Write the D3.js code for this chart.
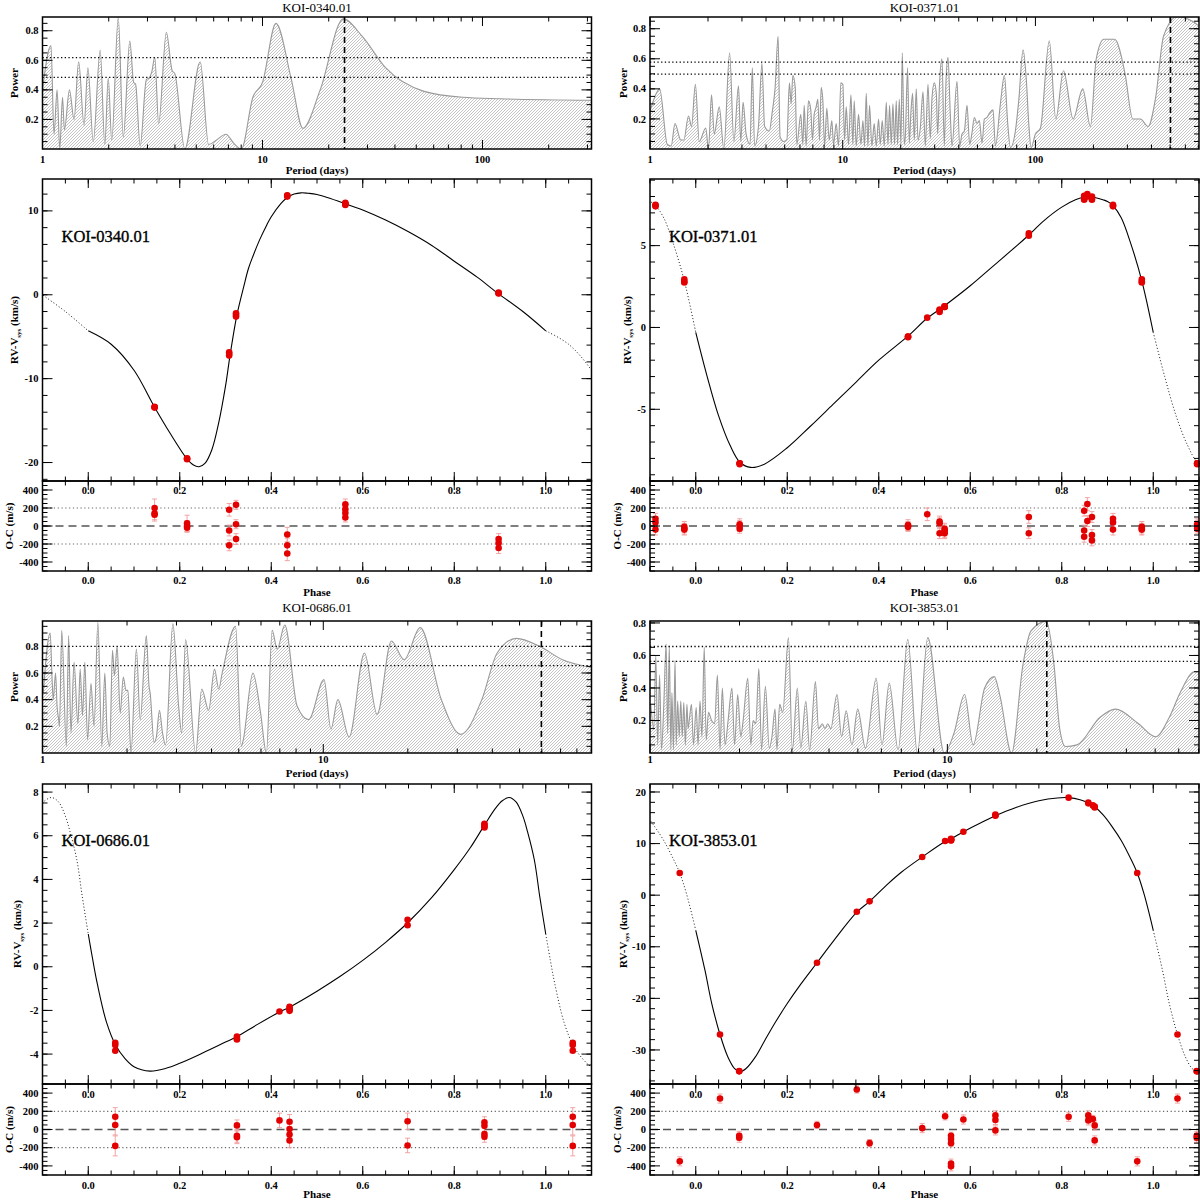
<!DOCTYPE html>
<html><head><meta charset="utf-8">
<script src="https://cdn.jsdelivr.net/npm/d3@7"></script>
<style>body{margin:0;background:#fff}svg text{font-family:"Liberation Serif","Times New Roman",serif;fill:#000}</style>
</head><body><svg id="c" width="1200" height="1200"></svg>
<script>
const koiNames=["KOI-0340.01","KOI-0371.01","KOI-0686.01","KOI-3853.01"];

// ---- periodograms: [period (days), power]
const pg0340=[[1.000,0.40],[1.093,0.70],[1.128,0.10],[1.165,0.40],[1.198,0.00],[1.233,0.35],[1.258,0.13],[1.326,0.40],[1.391,0.20],[1.460,0.59],[1.545,0.16],[1.608,0.55],[1.701,0.05],[1.829,0.67],[1.920,0.03],[1.990,0.48],[2.064,0.06],[2.210,0.89],[2.329,0.08],[2.494,0.73],[2.597,0.45],[2.649,0.44],[2.780,0.02],[2.965,0.47],[3.050,0.48],[3.137,0.52],[3.239,0.62],[3.373,0.17],[3.655,0.79],[3.884,0.53],[3.995,0.51],[4.436,0.00],[5.210,0.59],[5.691,0.03],[6.169,0.06],[6.823,0.10],[7.393,0.04],[8.013,0.00],[9.042,0.35],[10.00,0.45],[11.51,0.85],[13.53,0.47],[15.26,0.14],[18.29,0.40],[23.29,0.88],[28.48,0.76],[36.26,0.55],[54.24,0.39],[81.13,0.35],[121.3,0.34],[318.8,0.33]];
const pg0371=[[1.000,0.25],[1.047,0.33],[1.122,0.40],[1.230,0.03],[1.288,0.02],[1.348,0.17],[1.444,0.06],[1.498,0.06],[1.584,0.22],[1.643,0.15],[1.720,0.43],[1.801,0.05],[1.947,0.14],[2.011,0.00],[2.086,0.36],[2.154,0.10],[2.287,0.28],[2.417,0.00],[2.589,0.64],[2.724,0.05],[2.879,0.42],[2.958,0.05],[3.041,0.31],[3.153,0.10],[3.304,0.03],[3.396,0.54],[3.490,0.02],[3.655,0.15],[3.809,0.57],[3.934,0.15],[4.159,0.12],[4.313,0.25],[4.454,0.40],[4.621,0.75],
[4.73,0.08],[4.95,0.05],[5.13,0.06],[5.29,0.44],[5.40,0.30],[5.51,0.49],[5.67,0.41],[5.78,0.03],[6.06,0.23],[6.21,0.03],[6.31,0.29],[6.46,0.02],[6.64,0.32],[6.83,0.26],[6.97,0.06],[7.11,0.23],[7.28,0.28],[7.43,0.33],[7.58,0.06],[7.73,0.41],[7.89,0.32],[8.05,0.02],[8.27,0.27],[8.51,0.06],[8.78,0.19],[8.96,0.03],[9.25,0.17],[9.51,0.02],[9.78,0.44],[10.02,0.43],[10.22,0.06],[10.43,0.28],[10.72,0.03],[11.03,0.36],[11.29,0.03],[11.47,0.32],[11.75,0.02],[12.08,0.23],[12.43,0.03],[12.73,0.19],[12.98,0.02],[13.25,0.37],[13.51,0.02],[13.78,0.29],[14.17,0.02],[14.57,0.17],[14.93,0.02],[15.35,0.20],[15.66,0.03],[16.04,0.19],[16.43,0.02],[16.83,0.31],[17.17,0.03],[17.51,0.29],[17.86,0.03],[18.22,0.30],[18.58,0.03],[18.96,0.32],[19.26,0.03],[19.66,0.33],[20.05,0.03],[20.37,0.64],[20.86,0.03],[21.12,0.08],[21.71,0.54],[22.15,0.04],[22.60,0.25],[23.05,0.37],[23.52,0.06],[24.08,0.40],[24.58,0.06],[25.27,0.14],[26.09,0.38],[26.83,0.02],[27.70,0.43],[28.48,0.07],[29.06,0.34],[29.88,0.44],[30.60,0.37],[31.10,0.10],[31.84,0.45],[32.74,0.60],[33.67,0.02],[34.35,0.45],[35.18,0.61],[36.17,0.23],[36.90,0.02],[39.18,0.45],[40.45,0.02],[41.60,0.10],[42.78,0.12],[44.16,0.29],[45.60,0.03],[46.88,0.11],[48.21,0.21],[49.77,0.17],[51.18,0.19],[52.84,0.04],[54.34,0.20],[56.10,0.21],[57.91,0.24],[60.27,0.26],[61.97,0.02],[65.79,0.30],[69.02,0.49],[71.82,0.17],[74.15,0.01],[78.70,0.12],[81.90,0.32],[86.28,0.66],[89.80,0.45],[92.34,0.17],[94.96,0.01],[100.0,0.10],[106.2,0.14],
[118.0,0.72],[127.6,0.20],[139.9,0.52],[156.9,0.20],[176.0,0.40],[192.9,0.15],[206.8,0.60],[226.6,0.73],[257.7,0.73],[291.9,0.50],[319.9,0.20],[350.7,0.20],[384.4,0.15],[421.5,0.35],[462.0,0.75],[542.8,0.88],[652.3,0.85],[731.7,0.80]];
const pg0686=[[1.006,0.45],[1.065,0.90],[1.082,0.55],[1.092,0.40],[1.113,0.60],[1.127,0.35],[1.142,0.25],[1.149,0.20],[1.171,0.92],[1.216,0.05],[1.239,0.88],[1.263,0.15],[1.295,0.68],[1.337,0.22],[1.362,0.63],[1.388,0.28],[1.415,0.68],[1.447,0.10],[1.488,0.52],[1.526,0.20],[1.575,0.98],[1.626,0.05],[1.667,0.60],[1.699,0.15],[1.737,0.05],[1.775,0.77],[1.804,0.58],[1.844,0.80],[1.891,0.30],[1.940,0.57],[1.983,0.47],[2.015,0.47],[2.066,0.00],[2.160,0.78],[2.228,0.25],[2.343,0.88],[2.396,0.50],[2.418,0.45],[2.496,0.08],[2.544,0.12],[2.609,0.32],[2.676,0.15],[2.744,0.06],[2.913,0.97],[3.054,0.35],[3.132,0.15],[3.233,0.85],[3.510,0.00],[3.691,0.48],[3.906,0.32],[4.098,0.63],[4.243,0.48],[4.364,0.60],[4.872,0.95],[5.107,0.05],[5.189,0.10],[5.614,0.60],[5.981,0.30],[6.271,0.00],[6.574,0.92],[6.849,0.78],[7.295,0.96],[8.070,0.35],[8.870,0.25],[10.06,0.55],[10.65,0.18],[11.27,0.40],[12.36,0.12],[14.02,0.75],[15.55,0.29],[17.48,0.84],[19.40,0.70],[22.14,0.94],[26.33,0.40],[30.83,0.14],[36.68,0.40],[41.62,0.75],[48.72,0.86],[58.89,0.80],[71.14,0.70],[91.5,0.64]];
const pg3853=[[1.006,0.30],[1.030,0.15],[1.046,0.60],[1.061,0.05],[1.077,0.48],[1.093,0.02],[1.113,0.30],[1.133,0.67],[1.147,0.12],[1.161,0.66],[1.175,0.02],[1.185,0.37],[1.199,0.02],[1.214,0.57],[1.225,0.05],[1.239,0.32],[1.254,0.10],[1.269,0.32],[1.284,0.10],[1.299,0.31],[1.315,0.05],[1.331,0.30],[1.343,0.15],[1.355,0.20],[1.379,0.30],[1.400,0.05],[1.430,0.28],[1.451,0.05],[1.473,0.32],[1.495,0.10],[1.522,0.65],[1.545,0.08],[1.573,0.25],[1.611,0.20],[1.650,0.18],[1.685,0.48],[1.720,0.02],[1.751,0.40],[1.788,0.05],[1.831,0.20],[1.886,0.40],[1.925,0.05],[1.972,0.36],[2.020,0.10],[2.057,0.20],[2.132,0.46],[2.183,0.05],[2.222,0.20],[2.269,0.18],[2.323,0.52],[2.372,0.02],[2.444,0.41],[2.518,0.03],[2.571,0.10],[2.633,0.27],[2.673,0.02],[2.729,0.30],[2.795,0.25],[2.922,0.71],[3.011,0.02],[3.130,0.40],[3.215,0.03],[3.342,0.32],[3.443,0.02],[3.600,0.44],[3.687,0.15],[3.798,0.18],[3.878,0.15],[3.960,0.18],[4.055,0.15],[4.254,0.36],[4.409,0.10],[4.569,0.26],[4.777,0.05],[4.995,0.27],[5.303,0.03],[5.765,0.46],[6.028,0.05],[6.377,0.43],[6.831,0.02],[7.360,0.70],[7.931,0.00],[8.590,0.71],[9.765,0.00],[10.52,0.12],[11.43,0.36],[12.21,0.05],[13.35,0.40],[14.38,0.47],[15.04,0.35],[16.44,0.00],[17.98,0.55],[19.09,0.75],[21.50,0.81],[22.82,0.55],[23.87,0.15],[24.96,0.04],[27.29,0.05],[32.64,0.22],[36.75,0.27],[43.96,0.18],[50.24,0.10],[55.79,0.22],[61.00,0.38],[67.71,0.50],[71.85,0.50]];

// false-alarm power levels and adopted period (days)
const fap0340=[0.618,0.485], fap0371=[0.578,0.498], fap0686=[0.800,0.656], fap3853=[0.655,0.564];
const best0340=23.6, best0371=502, best0686=59.8, best3853=21.6;

// ---- orbital model curves: [phase, RV-Vsys (km/s)]
const model0340=[[0.00,-4.3],[0.05,-5.9],[0.10,-9.0],[0.145,-13.4],[0.18,-16.6],[0.215,-19.5],[0.23,-20.3],[0.242,-20.5],[0.255,-20.1],[0.27,-18.5],[0.285,-15.3],[0.30,-10.9],[0.31,-7.2],[0.325,-2.4],[0.34,1.0],[0.35,3.1],[0.36,4.6],[0.375,6.6],[0.39,8.3],[0.40,9.3],[0.42,10.8],[0.435,11.6],[0.45,12.0],[0.465,12.15],[0.48,12.1],[0.50,11.95],[0.565,10.8],[0.60,10.1],[0.65,8.9],[0.70,7.5],[0.75,5.9],[0.80,4.0],[0.85,2.1],[0.895,0.2],[0.95,-2.0],[1.00,-4.3]];
const model0371=[[0.00,-0.3],[0.025,-3.0],[0.05,-5.4],[0.075,-7.2],[0.097,-8.25],[0.12,-8.55],[0.15,-8.35],[0.20,-7.35],[0.25,-6.05],[0.30,-4.7],[0.35,-3.35],[0.40,-2.0],[0.465,-0.5],[0.505,0.55],[0.54,1.25],[0.60,2.55],[0.65,3.75],[0.70,4.95],[0.728,5.65],[0.76,6.5],[0.80,7.35],[0.83,7.8],[0.855,8.0],[0.87,7.95],[0.89,7.8],[0.90,7.7],[0.912,7.45],[0.93,6.7],[0.95,5.2],[0.975,2.85],[1.00,-0.3]];
const model0686=[[0.00,1.5],[0.01,0.3],[0.02,-0.8],[0.04,-2.55],[0.06,-3.6],[0.08,-4.2],[0.10,-4.58],[0.135,-4.78],[0.17,-4.65],[0.20,-4.42],[0.25,-3.95],[0.30,-3.45],[0.325,-3.2],[0.37,-2.64],[0.42,-2.05],[0.44,-1.85],[0.50,-1.12],[0.55,-0.45],[0.60,0.29],[0.65,1.12],[0.70,2.05],[0.75,3.15],[0.80,4.45],[0.835,5.45],[0.865,6.45],[0.89,7.25],[0.905,7.6],[0.92,7.75],[0.935,7.55],[0.95,6.9],[0.96,6.2],[0.975,4.9],[0.987,3.2],[1.00,1.5]];
const model3853=[[0.00,-6.8],[0.02,-14.5],[0.035,-21.0],[0.053,-27.0],[0.07,-31.3],[0.085,-33.6],[0.097,-34.2],[0.11,-33.6],[0.13,-31.4],[0.15,-28.3],[0.175,-24.5],[0.20,-21.0],[0.23,-17.2],[0.265,-13.1],[0.30,-9.0],[0.352,-3.3],[0.38,-1.2],[0.42,2.2],[0.45,4.5],[0.495,7.4],[0.545,10.4],[0.56,11.0],[0.585,12.3],[0.62,13.9],[0.655,15.4],[0.70,17.0],[0.75,18.3],[0.79,18.85],[0.815,18.9],[0.84,18.5],[0.86,17.8],[0.872,17.15],[0.89,15.6],[0.91,13.3],[0.93,10.6],[0.95,7.2],[0.965,4.3],[0.98,0.2],[1.00,-6.8]];

// ---- observations: phase, RV-Vsys (km/s), O-C (m/s), O-C error (m/s)
const ph0340=[0.145,0.145,0.145,0.216,0.216,0.216,0.308,0.308,0.308,0.323,0.323,0.323,0.435,0.435,0.435,0.562,0.562,0.562,0.562,0.897,0.897,0.897];
const rv0340=[-13.35,-13.4,-13.45,-19.5,-19.55,-19.6,-6.85,-7.05,-7.25,-2.2,-2.4,-2.6,11.85,11.8,11.7,10.95,10.85,10.8,10.7,0.25,0.2,0.15];
const oc0340=[200,140,125,30,0,-20,180,-50,-215,235,20,-145,-95,-215,-305,240,185,145,95,-145,-190,-245];
const er0340=[100,70,70,90,60,50,70,60,60,50,50,60,80,80,80,60,60,50,50,60,60,60];

const ph0371=[0.096,0.096,0.096,0.464,0.464,0.464,0.506,0.533,0.533,0.533,0.544,0.544,0.544,0.544,0.728,0.728,0.849,0.849,0.849,0.856,0.856,0.866,0.866,0.866,0.912,0.912,0.912,0.975,0.975,0.975];
const rv0371=[-8.3,-8.3,-8.35,-0.55,-0.55,-0.6,0.6,1.1,1.05,0.95,1.25,1.3,1.3,1.25,5.75,5.6,8.05,7.85,7.8,8.15,8.0,8.0,7.85,7.8,7.5,7.45,7.4,2.95,2.8,2.75];
const oc0371=[20,0,-30,10,0,-10,130,50,30,-80,-30,-50,-70,-80,100,-80,170,-50,-120,245,55,100,-100,-160,80,40,-40,-10,-30,-40];
const er0371=[60,60,50,60,50,50,70,60,60,60,60,60,60,60,70,60,60,60,60,70,60,60,60,60,60,60,60,60,60,60];

const ph0686=[0.059,0.059,0.059,0.325,0.325,0.325,0.418,0.44,0.44,0.44,0.44,0.698,0.698,0.866,0.866,0.866,0.866];
const rv0686=[-3.48,-3.58,-3.85,-3.2,-3.3,-3.33,-2.05,-1.83,-1.9,-1.97,-2.02,2.15,1.9,6.55,6.5,6.42,6.38];
const oc0686=[140,50,-180,45,-70,-85,100,85,5,-55,-120,90,-175,80,40,-50,-80];
const er0686=[100,110,110,60,70,70,80,80,80,80,80,90,80,60,60,60,60];

const ph3853=[0.053,0.095,0.095,0.265,0.352,0.38,0.495,0.545,0.558,0.558,0.558,0.558,0.558,0.585,0.655,0.655,0.655,0.815,0.858,0.858,0.868,0.872,0.872,0.965];
const rv3853=[-27.0,-34.1,-34.15,-13.1,-3.2,-1.2,7.4,10.5,10.95,10.85,10.75,10.65,10.6,12.3,15.65,15.5,15.4,18.9,17.95,17.8,17.4,17.2,17.0,4.3];
const oc3853=[340,-70,-90,50,440,-150,15,145,-70,-105,-150,-375,-405,110,155,105,-10,140,155,100,115,45,-120,-350];
const er3853=[50,50,50,40,40,40,50,40,40,40,40,50,50,50,50,50,50,50,50,50,40,50,50,50];

// ---- tick values
const phaseTicks=[0,0.2,0.4,0.6,0.8,1.0];
const ocTicks=[400,200,0,-200,-400];
const powerTicks=[0.2,0.4,0.6,0.8];
const periodTicks=[1,10,100];
const rvTicks0340=[10,0,-10,-20], rvTicks0371=[5,0,-5], rvTicks0686=[8,6,4,2,0,-2,-4], rvTicks3853=[20,10,0,-10,-20,-30];

// ---- layout
const cols=[{x0:42.5,x1:591.5,pw:14.6,oc:9.6},{x0:650,x1:1199,pw:623,oc:617}];
const rows=[
 {title:7.5,pg:[17,149],pgLab:159,perLab:170,rv:[179,481],rvLab:490,oc:[481,571],ocLab:580,phLab:592,koi:235},
 {title:607,pg:[621,753],pgLab:759,perLab:773,rv:[784,1084],rvLab:1094,oc:[1084,1175],ocLab:1185,phLab:1193.5,koi:839}];

const panels=[
 {name:koiNames[0],col:0,row:0,pg:pg0340,pgX:[1,313],pgY:[0,0.893],fap:fap0340,best:best0340,model:model0340,ph:ph0340,rv:rv0340,oc:oc0340,er:er0340,rvY:[-22.2,13.8],rvT:rvTicks0340,rvMinor:2,rvLabX:14.6},
 {name:koiNames[1],col:1,row:0,pg:pg0371,pgX:[1,706],pgY:[0,0.878],fap:fap0371,best:best0371,model:model0371,ph:ph0371,rv:rv0371,oc:oc0371,er:er0371,rvY:[-9.38,9.07],rvT:rvTicks0371,rvMinor:1,rvLabX:627},
 {name:koiNames[2],col:0,row:1,pg:pg0686,pgX:[1,90.2],pgY:[0,0.99],fap:fap0686,best:best0686,model:model0686,ph:ph0686,rv:rv0686,oc:oc0686,er:er0686,rvY:[-5.37,8.37],rvT:rvTicks0686,rvMinor:0.5,rvLabX:17.3},
 {name:koiNames[3],col:1,row:1,pg:pg3853,pgX:[1,70.2],pgY:[0,0.812],fap:fap3853,best:best3853,model:model3853,ph:ph3853,rv:rv3853,oc:oc3853,er:er3853,rvY:[-36.6,21.55],rvT:rvTicks3853,rvMinor:2,rvLabX:623}
];

const svg=d3.select("#c");
const defs=svg.append("defs");
defs.append("pattern").attr("id","hatch").attr("patternUnits","userSpaceOnUse").attr("width",3).attr("height",3)
  .append("path").attr("d","M-1,1 l2,-2 M0,3 l3,-3 M2,4 l2,-2").attr("stroke","#9c9c9c").attr("stroke-width",0.6);

const RED="#e30000", PINK="#f29a9a";
const TF=10.5;

function stepRange(lo,hi,step){const a=Math.ceil(lo/step-1e-9),b=Math.floor(hi/step+1e-9);return d3.range(a,b+1).map(i=>+(i*step).toFixed(6));}

function frame(g,xs,ys,xMaj,xMin,yMaj,yMin){
  const [x0,x1]=xs.range(), [yb,yt]=ys.range();
  const tg=g.append("g").attr("stroke","#000").attr("stroke-width",1);
  const seg=(a,b,c,d)=>tg.append("line").attr("x1",a).attr("y1",b).attr("x2",c).attr("y2",d);
  xMin.forEach(v=>{const x=xs(v);seg(x,yb,x,yb-4.5);seg(x,yt,x,yt+4.5);});
  xMaj.forEach(v=>{const x=xs(v);seg(x,yb,x,yb-9);seg(x,yt,x,yt+9);});
  yMin.forEach(v=>{const y=ys(v);seg(x0,y,x0+5,y);seg(x1,y,x1-5,y);});
  yMaj.forEach(v=>{const y=ys(v);seg(x0,y,x0+10,y);seg(x1,y,x1-10,y);});
  g.append("rect").attr("x",x0).attr("y",yt).attr("width",x1-x0).attr("height",yb-yt)
   .attr("fill","none").attr("stroke","#000").attr("stroke-width",1.5);
}
function yLabels(g,ys,vals,x0,fmt){
  vals.forEach(v=>g.append("text").attr("x",x0-4).attr("y",ys(v)+3.6).attr("text-anchor","end")
    .attr("font-size",TF).attr("font-weight","bold").text(fmt(v)));
}
function xLabels(g,xs,vals,yc,fmt){
  vals.forEach(v=>g.append("text").attr("x",xs(v)).attr("y",yc+3.6).attr("text-anchor","middle")
    .attr("font-size",TF).attr("font-weight","bold").text(fmt(v)));
}
function vTitle(g,x,yc,txt){
  return g.append("text").attr("transform",`translate(${x},${yc}) rotate(-90)`).attr("text-anchor","middle")
    .attr("dy","0.35em").attr("font-size",11).attr("font-weight","bold").text(txt);
}
function clip(id,x0,y0,x1,y1){
  defs.append("clipPath").attr("id",id).append("rect").attr("x",x0).attr("y",y0).attr("width",x1-x0).attr("height",y1-y0);
  return `url(#${id})`;
}

panels.forEach((p,k)=>{
  const c=cols[p.col], r=rows[p.row];
  const g=svg.append("g");
  const cx=(c.x0+c.x1)/2;

  // ---------- periodogram
  const xp=d3.scaleLog().domain(p.pgX).range([c.x0,c.x1]);
  const yp=d3.scaleLinear().domain(p.pgY).range([r.pg[1],r.pg[0]]);
  const cp=clip("cpg"+k,c.x0,r.pg[0],c.x1,r.pg[1]);
  const gp=g.append("g").attr("clip-path",cp);
  gp.append("path").datum(p.pg).attr("fill","url(#hatch)")
    .attr("d",d3.area().x(d=>xp(d[0])).y0(yp(0)).y1(d=>yp(d[1])).curve(d3.curveMonotoneX));
  gp.append("path").datum(p.pg).attr("fill","none").attr("stroke","#9a9a9a").attr("stroke-width",1.1)
    .attr("d",d3.line().x(d=>xp(d[0])).y(d=>yp(d[1])).curve(d3.curveMonotoneX));
  p.fap.forEach(v=>gp.append("line").attr("x1",c.x0).attr("x2",c.x1).attr("y1",yp(v)).attr("y2",yp(v))
    .attr("stroke","#000").attr("stroke-width",1.3).attr("stroke-dasharray","1.3,2.4"));
  gp.append("line").attr("x1",xp(p.best)).attr("x2",xp(p.best)).attr("y1",r.pg[0]).attr("y2",r.pg[1])
    .attr("stroke","#000").attr("stroke-width",1.6).attr("stroke-dasharray","6,4");
  const logMaj=periodTicks.filter(v=>v>=p.pgX[0]&&v<=p.pgX[1]);
  const logMin=[];[1,10,100].forEach(d=>d3.range(2,10).forEach(m=>{const v=d*m;if(v>p.pgX[0]&&v<p.pgX[1])logMin.push(v);}));
  frame(g,xp,yp,logMaj,logMin,powerTicks.filter(v=>v<=p.pgY[1]),stepRange(0.05,p.pgY[1],0.05));
  yLabels(g,yp,powerTicks.filter(v=>v<=p.pgY[1]),c.x0,v=>v.toFixed(1));
  xLabels(g,xp,logMaj,r.pgLab,v=>String(v));
  g.append("text").attr("x",cx).attr("y",r.perLab+4).attr("text-anchor","middle").attr("font-size",11).attr("font-weight","bold").text("Period (days)");
  g.append("text").attr("x",cx).attr("y",r.title+4.5).attr("text-anchor","middle").attr("font-size",13).text(p.name);
  vTitle(g,c.pw,(r.pg[0]+r.pg[1])/2,"Power");

  // ---------- RV panel
  const xr=d3.scaleLinear().domain([-0.1,1.1]).range([c.x0,c.x1]);
  const yr=d3.scaleLinear().domain(p.rvY).range([r.rv[1],r.rv[0]]);
  const cr=clip("crv"+k,c.x0,r.rv[0],c.x1,r.rv[1]);
  const gr=g.append("g").attr("clip-path",cr);
  const ln=d3.line().x(d=>xr(d[0])).y(d=>yr(d[1])).curve(d3.curveCatmullRom.alpha(0.5));
  [-1,1].forEach(s=>gr.append("path").datum(p.model.map(d=>[d[0]+s,d[1]])).attr("d",ln)
    .attr("fill","none").attr("stroke","#000").attr("stroke-width",0.9).attr("stroke-dasharray","1,2.2"));
  gr.append("path").datum(p.model).attr("d",ln).attr("fill","none").attr("stroke","#000").attr("stroke-width",1.1);

  const obs=[];
  p.ph.forEach((ph,i)=>[-1,0,1].forEach(s=>{const f=ph+s;if(f>=-0.1&&f<=1.1)obs.push({f,rv:p.rv[i],oc:p.oc[i],er:p.er[i]});}));
  g.append("g").selectAll("circle").data(obs).join("circle").attr("cx",d=>xr(d.f)).attr("cy",d=>yr(d.rv)).attr("r",3.3).attr("fill",RED);

  const phMin=stepRange(-0.1,1.1,0.05);
  frame(g,xr,yr,phaseTicks,phMin,p.rvT,stepRange(p.rvY[0],p.rvY[1],p.rvMinor));
  yLabels(g,yr,p.rvT,c.x0,v=>String(v));
  xLabels(g,xr,phaseTicks,r.rvLab,v=>v.toFixed(1));
  const t=g.append("text").attr("transform",`translate(${p.rvLabX},${(r.rv[0]+r.rv[1])/2}) rotate(-90)`)
    .attr("text-anchor","middle").attr("dy","0.35em").attr("font-size",11).attr("font-weight","bold");
  t.append("tspan").text("RV-V");
  t.append("tspan").attr("font-size",7).attr("dy",2.5).text("sys");
  t.append("tspan").attr("dy",-2.5).text(" (km/s)");
  g.append("text").attr("x",c.x0+19).attr("y",r.koi+6.5).attr("font-size",16.5)
    .attr("stroke","#000").attr("stroke-width",0.35).text(p.name);

  // ---------- O-C panel
  const yo=d3.scaleLinear().domain([-500,500]).range([r.oc[1],r.oc[0]]);
  const go=g.append("g");
  go.append("line").attr("x1",c.x0).attr("x2",c.x1).attr("y1",yo(0)).attr("y2",yo(0))
    .attr("stroke","#555").attr("stroke-width",1.6).attr("stroke-dasharray","8,5");
  [200,-200].forEach(v=>go.append("line").attr("x1",c.x0).attr("x2",c.x1).attr("y1",yo(v)).attr("y2",yo(v))
    .attr("stroke","#666").attr("stroke-width",1.2).attr("stroke-dasharray","1.2,2.6"));
  const eb=go.append("g").attr("stroke",PINK).attr("stroke-width",0.9);
  obs.forEach(d=>{const x=xr(d.f),a=yo(d.oc+d.er),b=yo(d.oc-d.er);
    eb.append("line").attr("x1",x).attr("x2",x).attr("y1",a).attr("y2",b);
    eb.append("line").attr("x1",x-2.5).attr("x2",x+2.5).attr("y1",a).attr("y2",a);
    eb.append("line").attr("x1",x-2.5).attr("x2",x+2.5).attr("y1",b).attr("y2",b);});
  go.selectAll("circle").data(obs).join("circle").attr("cx",d=>xr(d.f)).attr("cy",d=>yo(d.oc)).attr("r",3.3).attr("fill",RED);
  frame(g,xr,yo,phaseTicks,phMin,ocTicks,stepRange(-500,500,50));
  yLabels(g,yo,ocTicks,c.x0,v=>String(v));
  xLabels(g,xr,phaseTicks,r.ocLab,v=>v.toFixed(1));
  vTitle(g,c.oc,(r.oc[0]+r.oc[1])/2,"O-C (m/s)");
  g.append("text").attr("x",cx).attr("y",r.phLab+4).attr("text-anchor","middle").attr("font-size",11).attr("font-weight","bold").text("Phase");
});
</script></body></html>
